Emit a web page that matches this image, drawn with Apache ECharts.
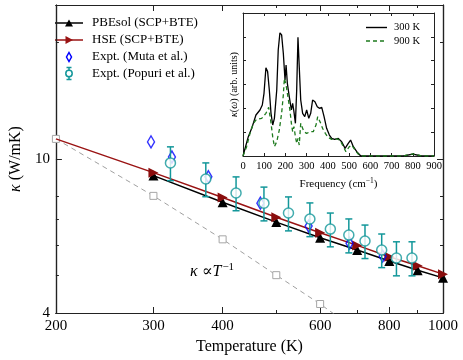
<!DOCTYPE html>
<html>
<head>
<meta charset="utf-8">
<script src="https://cdn.jsdelivr.net/npm/echarts@6/dist/echarts.min.js"></script>
<style>
  html, body { margin: 0; padding: 0; background: #fff; }
  #main { width: 463px; height: 360px; }
</style>
</head>
<body>
<div id="main"></div>
<script>
// 计算结果 (SCP+BTE)
var tempPBEsol = [300, 400, 500, 600, 700, 800, 900, 1000];
var kappaPBEsol = [9.06, 7.73, 6.87, 6.26, 5.82, 5.45, 5.16, 4.93];
var tempHSE = [200, 300, 400, 500, 600, 700, 800, 900, 1000];
var kappaHSE = [11.27, 9.22, 7.95, 7.07, 6.45, 5.98, 5.59, 5.30, 5.04];
// κ ∝ 1/T 参考线
var tempInv = [200, 300, 400, 500, 600, 700];
var kappaInv = [11.27, 8.03, 6.20, 5.01, 4.22, 3.6];
// 实验值
var tempMuta = [297, 324, 377, 468, 572, 678, 778];
var kappaMuta = [11.07, 10.12, 9.0, 7.69, 6.71, 6.06, 5.61];
var tempPopuri = [322, 373, 423, 475, 526, 575, 626, 676, 723, 775, 824, 879];
var kappaPopuri = [9.77, 8.88, 8.17, 7.69, 7.25, 7.00, 6.59, 6.36, 6.14, 5.82, 5.55, 5.55];
var errPopuri = [0.98, 0.89, 0.82, 0.77, 0.73, 0.70, 0.66, 0.64, 0.61, 0.58, 0.56, 0.56];
// 刻度
var tMajor = [200, 300, 400, 600, 800, 1000];
var tMinor = [500, 700, 900];
var kMajor = [4, 10];
var kMinor = [5, 6, 7, 8, 20];
var tRange = [200, 1000];
var kRange = [4, 25];
// 插图: 频谱 κ(ω)
var freq300 = [0, 25, 41, 61, 80, 91, 99, 108, 116, 124, 132, 140, 148, 159, 166, 174, 182, 190, 198, 203, 209, 218, 228, 234, 240, 247, 253, 259, 265, 272, 281, 291, 300, 310, 319, 328, 339, 350, 360, 371, 382, 394, 407, 418, 432, 449, 465, 481, 496, 507, 520, 536, 555, 755, 800, 842, 900];
var kw300 = [0, 0.81, 1.16, 1.72, 1.93, 2.14, 2.63, 3.70, 3.54, 2.77, 1.79, 1.30, 1.58, 2.77, 4.45, 5.17, 5.08, 4.31, 3.19, 3.82, 3.05, 2.49, 1.93, 2.21, 1.86, 1.37, 2.77, 4.98, 3.75, 2.35, 1.79, 1.65, 1.93, 1.58, 1.79, 2.35, 2.28, 2.07, 2.00, 2.04, 1.65, 1.16, 0.88, 0.74, 0.70, 0.74, 0.60, 0.32, 0.53, 0.67, 0.39, 0.18, 0, 0, 0.08, 0, 0];
var freq900 = [0, 17, 33, 49, 64, 88, 108, 121, 130, 140, 148, 159, 171, 182, 190, 195, 203, 214, 221, 228, 234, 240, 247, 253, 259, 265, 272, 278, 287, 300, 316, 331, 344, 352, 363, 375, 388, 401, 418, 438, 457, 473, 485, 501, 512, 528, 543, 560, 755, 800, 842, 900];
var kw900 = [0, 0.39, 0.95, 1.37, 1.54, 1.58, 1.79, 2.04, 1.51, 0.81, 0.39, 0.60, 1.09, 1.79, 2.56, 3.26, 2.98, 2.35, 1.93, 1.37, 1.02, 1.23, 0.81, 0.53, 0.74, 0.46, 1.37, 1.44, 1.02, 0.95, 1.02, 1.02, 1.30, 1.65, 1.44, 1.16, 0.95, 0.78, 0.70, 0.73, 0.67, 0.39, 0.18, 0.39, 0.46, 0.25, 0.08, 0, 0, 0.09, 0, 0];

var FONT = 'Liberation Serif, DejaVu Serif, serif';
var BLACK = '#000';
var RED = '#9a1313';
var BLUE = '#0000ff';
var TEAL = '#13979a';
var GREEN = '#1e7a1e';
var lg = Math.log10;

function pairs(xs, ys) {
    var out = [];
    for (var i = 0; i < xs.length; i++) {
        out.push([lg(xs[i]), lg(ys[i])]);
    }
    return out;
}

function rawPairs(xs, ys) {
    var out = [];
    for (var i = 0; i < xs.length; i++) {
        out.push([xs[i], ys[i]]);
    }
    return out;
}

//主图的对数坐标轴 (数据取 log10 后画在数值轴上)
function mainAxis(pos, ticks, len, showLabel, range) {
    var vals = ticks.map(lg);
    return {
        type: 'value',
        gridIndex: 0,
        position: pos,
        min: lg(range[0]),
        max: lg(range[1]),
        axisLine: {show: true, onZero: false, lineStyle: {color: '#222', width: 1.2}},
        axisTick: {show: true, inside: true, length: len, customValues: vals, lineStyle: {color: '#222', width: 1}},
        axisLabel: {
            show: showLabel,
            customValues: vals,
            margin: 6,
            color: '#000',
            fontFamily: FONT,
            fontSize: 15,
            formatter: function (v) {
                return String(Math.round(Math.pow(10, v)));
            }
        },
        splitLine: {show: false}
    };
}

function insetAxis(pos, min, max, interval, showLabel) {
    return {
        type: 'value',
        gridIndex: 1,
        position: pos,
        min: min,
        max: max,
        interval: interval,
        axisLine: {show: true, onZero: false, lineStyle: {color: '#222', width: 1}},
        axisTick: {show: true, inside: true, length: 3, lineStyle: {color: '#222'}},
        axisLabel: {show: showLabel, margin: 5, color: '#000', fontFamily: FONT, fontSize: 10.5},
        splitLine: {show: false}
    };
}

var xMain = mainAxis('bottom', tMajor, 6, true, tRange);
xMain.name = 'Temperature (K)';
xMain.nameLocation = 'middle';
xMain.nameGap = 24;
xMain.nameTextStyle = {color: '#000', fontFamily: FONT, fontSize: 16};

var yMain = mainAxis('left', kMajor, 6, true, kRange);
yMain.name = '{it|κ} (W/mK)';
yMain.nameLocation = 'middle';
yMain.nameGap = 22;
yMain.nameTextStyle = {color: '#000', fontFamily: FONT, fontSize: 16, rich: {it: {fontStyle: 'italic', fontFamily: FONT, fontSize: 16}}};

var xInset = insetAxis('bottom', 0, 900, 100, true);
xInset.name = 'Frequency (cm{sup|−1})';
xInset.nameLocation = 'middle';
xInset.nameGap = 21;
xInset.nameTextStyle = {color: '#000', fontFamily: FONT, fontSize: 11, rich: {sup: {fontFamily: FONT, fontSize: 7.5, verticalAlign: 'top', padding: [0, 0, 6, 0]}}};

var yInset = insetAxis('left', 0, 6, 1, false);
yInset.name = '{it|κ}({it|ω}) (arb. units)';
yInset.nameLocation = 'middle';
yInset.nameGap = 4;
yInset.nameTextStyle = {color: '#000', fontFamily: FONT, fontSize: 10, rich: {it: {fontStyle: 'italic', fontFamily: FONT, fontSize: 10}}};

//误差棒
function renderErr(params, api) {
    var x = api.value(0);
    var pLo = api.coord([x, api.value(1)]);
    var pHi = api.coord([x, api.value(2)]);
    var w = 3.5;
    var st = {stroke: TEAL, lineWidth: 1.5};
    return {
        type: 'group',
        children: [
            {type: 'line', shape: {x1: pLo[0], y1: pLo[1], x2: pHi[0], y2: pHi[1]}, style: st},
            {type: 'line', shape: {x1: pLo[0] - w, y1: pLo[1], x2: pLo[0] + w, y2: pLo[1]}, style: st},
            {type: 'line', shape: {x1: pHi[0] - w, y1: pHi[1], x2: pHi[0] + w, y2: pHi[1]}, style: st}
        ]
    };
}

var errData = [];
for (var i = 0; i < tempPopuri.length; i++) {
    errData.push([lg(tempPopuri[i]), lg(kappaPopuri[i] - errPopuri[i]), lg(kappaPopuri[i] + errPopuri[i])]);
}

var hseData = pairs(tempHSE, kappaHSE).map(function (p, i) {
    return i === 0 ? {value: p, symbol: 'none'} : p;
});

//图例 (手动画)
function legendText(x, y, text, size) {
    return {
        type: 'text', x: x, y: y, silent: true,
        style: {text: text, fill: '#000', fontFamily: FONT, fontSize: size, verticalAlign: 'middle'}
    };
}

function legendLine(y, color, dash) {
    return {type: 'line', silent: true, shape: {x1: 55, y1: y, x2: 83, y2: y}, style: {stroke: color, lineWidth: 1.5, lineDash: dash}};
}

var legendItems = [
    legendLine(23, BLACK),
    {type: 'polygon', silent: true, shape: {points: [[69, 19.5], [73, 26.5], [65, 26.5]]}, style: {fill: BLACK}},
    legendText(92, 23, 'PBEsol (SCP+BTE)', 13),
    legendLine(40, RED),
    {type: 'polygon', silent: true, shape: {points: [[65.5, 36], [73, 40], [65.5, 44]]}, style: {fill: RED}},
    legendText(92, 40, 'HSE (SCP+BTE)', 13),
    {type: 'polygon', silent: true, shape: {points: [[69, 52.5], [71.5, 57], [69, 61.5], [66.5, 57]]}, style: {fill: 'none', stroke: BLUE, lineWidth: 1.5}},
    legendText(92, 57, 'Expt. (Muta et al.)', 13),
    {type: 'line', silent: true, shape: {x1: 69, y1: 67.5, x2: 69, y2: 79.5}, style: {stroke: TEAL, lineWidth: 1.5}},
    {type: 'line', silent: true, shape: {x1: 66.5, y1: 67.5, x2: 71.5, y2: 67.5}, style: {stroke: TEAL, lineWidth: 1.5}},
    {type: 'line', silent: true, shape: {x1: 66.5, y1: 79.5, x2: 71.5, y2: 79.5}, style: {stroke: TEAL, lineWidth: 1.5}},
    {type: 'circle', silent: true, shape: {cx: 69, cy: 73.5, r: 3.2}, style: {fill: '#fff', stroke: TEAL, lineWidth: 1.5}},
    legendText(92, 73.5, 'Expt. (Popuri et al.)', 13),
    {type: 'line', silent: true, shape: {x1: 366, y1: 27.5, x2: 387, y2: 27.5}, style: {stroke: BLACK, lineWidth: 1.4}},
    legendText(394, 27.5, '300 K', 10.5),
    {type: 'line', silent: true, shape: {x1: 366, y1: 41, x2: 387, y2: 41}, style: {stroke: GREEN, lineWidth: 1.4, lineDash: [4, 3]}},
    legendText(394, 41, '900 K', 10.5),
    {
        type: 'text', x: 190, y: 262, silent: true,
        style: {
            text: '{it|κ} ∝{it|T}{sup|−1}',
            fill: '#000',
            fontFamily: FONT,
            fontSize: 16,
            rich: {
                it: {fontStyle: 'italic', fontFamily: FONT, fontSize: 16},
                sup: {fontFamily: FONT, fontSize: 11, verticalAlign: 'top', padding: [0, 0, 8, 1]}
            }
        }
    }
];

var option = {
    animation: false,
    backgroundColor: '#fff',
    grid: [
        {left: 45, top: 5, width: 398, height: 308},
        {left: 243, top: 13, width: 191, height: 143}
    ],
    xAxis: [
        xMain,
        mainAxis('bottom', tMinor, 3, false, tRange),
        mainAxis('top', tMajor, 6, false, tRange),
        mainAxis('top', tMinor, 3, false, tRange),
        xInset,
        insetAxis('top', 0, 900, 100, false)
    ],
    yAxis: [
        yMain,
        mainAxis('left', kMinor, 3, false, kRange),
        mainAxis('right', kMajor, 6, false, kRange),
        mainAxis('right', kMinor, 3, false, kRange),
        yInset,
        insetAxis('right', 0, 6, 1, false)
    ],
    graphic: legendItems,
    series: [{
        name: 'κ ∝ 1/T',
        type: 'line',
        xAxisIndex: 0,
        yAxisIndex: 0,
        data: pairs(tempInv, kappaInv),
        symbol: 'rect',
        symbolSize: 7,
        itemStyle: {color: '#fff', borderColor: '#a6a6a6', borderWidth: 1},
        lineStyle: {color: '#a0a0a0', width: 1, type: [5, 4]},
        z: 1
    }, {
        name: 'PBEsol (SCP+BTE)',
        type: 'line',
        xAxisIndex: 0,
        yAxisIndex: 0,
        data: pairs(tempPBEsol, kappaPBEsol),
        symbol: 'triangle',
        symbolSize: 10,
        itemStyle: {color: BLACK},
        lineStyle: {color: BLACK, width: 1.5},
        z: 2
    }, {
        name: 'HSE (SCP+BTE)',
        type: 'line',
        xAxisIndex: 0,
        yAxisIndex: 0,
        data: hseData,
        symbol: 'triangle',
        symbolRotate: -90,
        symbolSize: 10,
        itemStyle: {color: '#8a0e0e'},
        lineStyle: {color: RED, width: 1.5},
        z: 3
    }, {
        name: 'Expt. (Muta et al.)',
        type: 'scatter',
        xAxisIndex: 0,
        yAxisIndex: 0,
        data: pairs(tempMuta, kappaMuta),
        symbol: 'diamond',
        symbolSize: [7, 12],
        itemStyle: {color: 'none', borderColor: BLUE, borderWidth: 1.5},
        z: 4
    }, {
        name: 'popuri-err',
        type: 'custom',
        xAxisIndex: 0,
        yAxisIndex: 0,
        data: errData,
        renderItem: renderErr,
        encode: {x: 0, y: [1, 2]},
        z: 5
    }, {
        name: 'Expt. (Popuri et al.)',
        type: 'scatter',
        xAxisIndex: 0,
        yAxisIndex: 0,
        data: pairs(tempPopuri, kappaPopuri),
        symbol: 'circle',
        symbolSize: 10,
        itemStyle: {color: '#fff', borderColor: TEAL, borderWidth: 1.5},
        z: 6
    }, {
        name: '300 K',
        type: 'line',
        xAxisIndex: 4,
        yAxisIndex: 4,
        data: rawPairs(freq300, kw300),
        symbol: 'none',
        lineStyle: {color: BLACK, width: 1.3},
        z: 2
    }, {
        name: '900 K',
        type: 'line',
        xAxisIndex: 4,
        yAxisIndex: 4,
        data: rawPairs(freq900, kw900),
        symbol: 'none',
        lineStyle: {color: GREEN, width: 1.3, type: [4, 3]},
        z: 3
    }]
};

var chart = echarts.init(document.getElementById('main'));
chart.setOption(option);
</script>
</body>
</html>
